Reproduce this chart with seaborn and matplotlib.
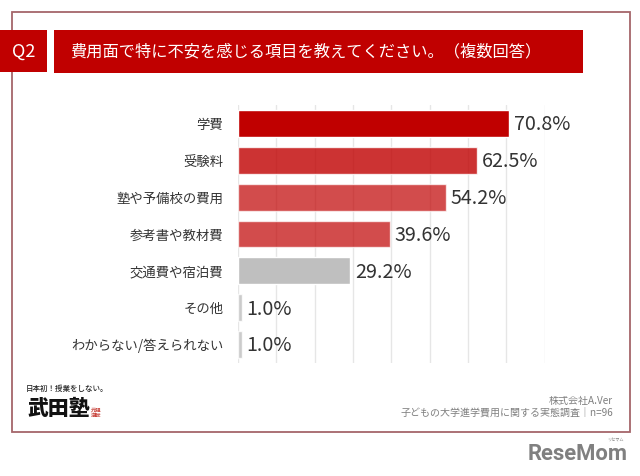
import matplotlib
matplotlib.use('Agg')
import matplotlib.pyplot as plt
from matplotlib.patches import Rectangle
import pandas as pd
import seaborn as sns

# chart values
categories = ['学費', '受験料', '塾や予備校の費用', '参考書や教材費', '交通費や宿泊費', 'その他', 'わからない/答えられない']
percents = [70.8, 62.5, 54.2, 39.6, 29.2, 1.0, 1.0]
bar_colors = ['#c00000', '#c00000', '#c00000', '#c00000', '#bfbfbf', '#bfbfbf', '#bfbfbf']
bar_alphas = [1, 0.8, 0.7, 0.7, 1, 0.8, 0.8]
x_ticks = [0, 10, 20, 30, 40, 50, 60, 70, 80]

W, H = 640, 476

sns.set_theme(style='white')
plt.rcParams['font.family'] = ['Noto Sans CJK JP', 'DejaVu Sans']


# pixel box -> figure fraction, y counted from the top
def add_box(fig, x0, y0, x1, y1, **kw):
    fig.add_artist(Rectangle((x0 / W, 1 - y1 / H), (x1 - x0) / W, (y1 - y0) / H,
                             transform=fig.transFigure, **kw))


def add_text(fig, x, y, s, **kw):
    fig.text(x / W, 1 - y / H, s, **kw)


fig = plt.figure(figsize=(W / 100, H / 100), dpi=100, facecolor='white')

add_box(fig, 11.5, 12, 630, 431.5, facecolor='white', edgecolor='#a5666a', linewidth=1.3)
add_box(fig, 0, 30, 47, 72, facecolor='#c00000', edgecolor='none')
add_box(fig, 54, 30, 583, 73, facecolor='#c00000', edgecolor='none')

ax = fig.add_axes([238 / W, 1 - 363 / H, (544.5 - 238) / W, (363 - 105) / H])
ax.set_zorder(5)
ax.patch.set_alpha(0)

df = pd.DataFrame({'category': categories, 'percent': percents})
sns.barplot(data=df, x='percent', y='category', hue='category', palette=bar_colors,
            legend=False, width=0.73, saturation=1, ax=ax, zorder=3)

ax.set_xlim(0, 80)
ax.set_xticks(x_ticks)
ax.grid(axis='x', color='#e6e6e6', linewidth=1)
ax.set_axisbelow(True)
ax.set_xlabel('')
ax.set_ylabel('')
ax.tick_params(axis='x', length=0, labelbottom=False)
ax.tick_params(axis='y', length=0, pad=10.5, labelsize=9.6, labelcolor='#333333')
for spine in ax.spines.values():
    spine.set_visible(False)

for container, alpha in zip(ax.containers, bar_alphas):
    for bar in container:
        bar.set_alpha(alpha)
    labels = ax.bar_label(container, fmt='%.1f%%', padding=3.5, fontsize=14.2, color='#333333')
    for label in labels:
        label.xyann = (label.xyann[0], label.xyann[1] - 1)

# header
add_text(fig, 23.5, 51.5, 'Q2', color='white', fontsize=13, ha='center', va='center')
add_text(fig, 70, 51.5, '費用面で特に不安を感じる項目を教えてください。（複数回答）', color='white',
         fontsize=11.7, ha='left', va='center')

# logo
add_text(fig, 26, 388.5, '日本初！授業をしない。', color='#222222', fontsize=5.4, ha='left', va='center',
         family='Noto Sans CJK JP', fontweight='medium')
add_text(fig, 27, 408.5, '武田塾', color='#111111', fontsize=15, ha='left', va='center',
         family='Noto Sans CJK JP', fontweight='black')
add_text(fig, 96, 413, '元祖\n逆転', color='#c8443c', fontsize=3.8, ha='center', va='center', linespacing=1.0,
         family='Noto Sans CJK JP', fontweight='bold')

# source
add_text(fig, 613, 401, '株式会社A.Ver', color='#7f7f7f', fontsize=7.2, ha='right', va='center')
add_text(fig, 613, 414, '子どもの大学進学費用に関する実態調査｜n=96', color='#7f7f7f', fontsize=7.2,
         ha='right', va='center')

# watermark
add_text(fig, 628, 454, 'ReseMom', color='#808080', fontsize=15.8, ha='right', va='center',
         family='Roboto', fontweight='bold')
add_text(fig, 624, 440.5, 'リセマム', color='#808080', fontsize=3, ha='right', va='center')

fig.savefig('out.png', dpi=100)
